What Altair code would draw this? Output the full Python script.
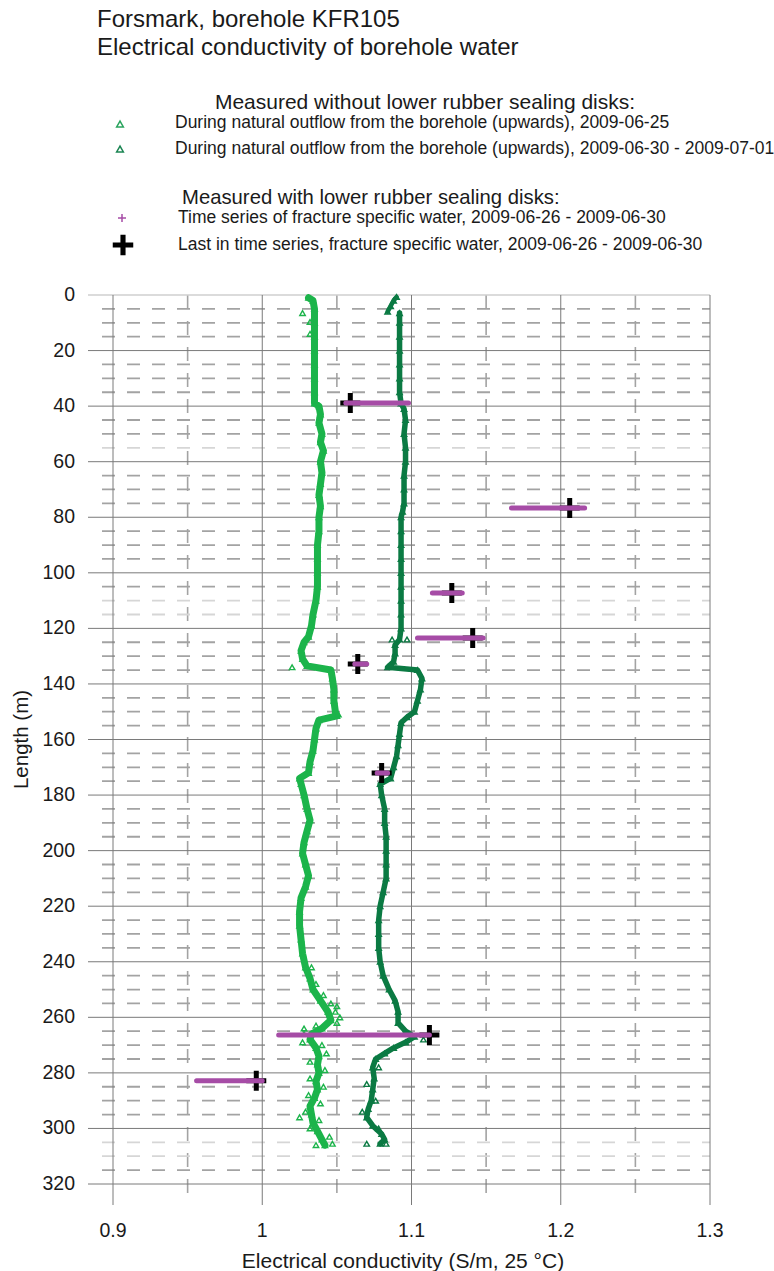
import altair as alt
import pandas as pd

FONT = "Liberation Sans"
TXT = "#1a1a1a"
GRID = "#7a7a7a"
DASH = "#a3a3a3"
LIGHT_DASH = "#d6d6d6"
TOP_LINE = "#cfcfcf"
LIGHT_GREEN = "#1cb44b"
DARK_GREEN = "#0b7a43"
PURPLE = "#a64ca6"

W, H = 597, 889

# ---------------- data ----------------
# Series A: natural outflow, 2009-06-25 (light green)
A_DEPTH = [1, 2, 5, 10, 15, 20, 25, 30, 35, 39, 40, 43, 46, 50, 53, 56, 60, 64, 68, 72,
           76, 80, 85, 90, 95, 100, 105, 110, 115, 119, 123, 125, 128, 131, 133.5, 135, 138,
           142, 146, 150, 151.5, 153, 156, 160, 164, 168, 172, 174, 176, 180, 185, 189, 193,
           197, 201, 205, 209, 213, 217, 222, 227, 232, 237, 242, 246, 250, 254, 258, 261,
           264, 266, 268, 271, 274, 277, 280, 283, 286, 289, 292, 295, 298, 301, 304, 306]
A_EC = [1.031, 1.034, 1.035, 1.035, 1.035, 1.035, 1.035, 1.035, 1.035, 1.035, 1.038, 1.039,
        1.038, 1.040, 1.039, 1.041, 1.039, 1.040, 1.039, 1.038, 1.039, 1.038, 1.038, 1.037,
        1.037, 1.037, 1.037, 1.036, 1.034, 1.033, 1.031, 1.028, 1.026, 1.027, 1.030, 1.046,
        1.047, 1.048, 1.048, 1.049, 1.050, 1.038, 1.036, 1.035, 1.034, 1.032, 1.031, 1.025,
        1.026, 1.028, 1.030, 1.032, 1.030, 1.028, 1.027, 1.029, 1.031, 1.029, 1.026, 1.025,
        1.025, 1.026, 1.027, 1.029, 1.032, 1.034, 1.039, 1.044, 1.046, 1.040, 1.033, 1.032,
        1.036, 1.038, 1.037, 1.038, 1.036, 1.037, 1.035, 1.032, 1.033, 1.034, 1.037, 1.040,
        1.042]
A_STRAY_DEPTH = [6.5, 9.7, 14, 134, 151, 242, 248, 252, 255, 256, 258, 260, 262, 263, 264,
                 266, 269, 270, 273, 276, 279, 282, 285, 288, 291, 294, 296, 297, 300, 303,
                 305.5, 306]
A_STRAY_EC = [1.027, 1.032, 1.032, 1.020, 1.051, 1.033, 1.036, 1.041, 1.046, 1.050, 1.049,
              1.052, 1.050, 1.036, 1.028, 1.028, 1.027, 1.040, 1.043, 1.032, 1.042, 1.032,
              1.041, 1.031, 1.039, 1.029, 1.025, 1.038, 1.032, 1.045, 1.047, 1.036]

# Series B: natural outflow, 2009-06-30 - 2009-07-01 (dark green)
B_HOOK_DEPTH = [0.7, 2, 4, 6]
B_HOOK_EC = [1.090, 1.088, 1.086, 1.084]
B_DEPTH = [6.5, 10, 15, 20, 25, 30, 35, 39, 41, 45, 50, 55, 60, 65, 70, 75, 78, 80, 85, 90,
           95, 100, 105, 110, 115, 120, 124, 126, 129, 132, 134, 135, 138, 142, 146, 150, 152,
           154, 158, 162, 166, 170, 174, 176, 180, 185, 190, 195, 200, 205, 210, 215, 220,
           225, 230, 235, 240, 245, 250, 254, 258, 262, 265, 267, 269, 271, 273, 275, 278,
           282, 286, 290, 293, 296, 299, 302, 304, 305.5]
B_EC = [1.092, 1.092, 1.092, 1.092, 1.092, 1.092, 1.092, 1.093, 1.095, 1.096, 1.095, 1.096,
        1.096, 1.095, 1.095, 1.095, 1.094, 1.093, 1.093, 1.093, 1.093, 1.093, 1.093, 1.093,
        1.093, 1.093, 1.092, 1.089, 1.089, 1.088, 1.084, 1.104, 1.107, 1.106, 1.104, 1.102,
        1.097, 1.093, 1.092, 1.091, 1.090, 1.088, 1.086, 1.079, 1.080, 1.082, 1.082, 1.083,
        1.083, 1.083, 1.083, 1.081, 1.079, 1.078, 1.078, 1.078, 1.079, 1.081, 1.085, 1.089,
        1.091, 1.091, 1.096, 1.102, 1.096, 1.088, 1.082, 1.076, 1.074, 1.075, 1.074, 1.073,
        1.071, 1.070, 1.074, 1.080, 1.082, 1.079]
B_STRAY_DEPTH = [124, 124, 268, 278, 284, 290, 294, 300, 305.5, 305.5]
B_STRAY_EC = [1.097, 1.087, 1.108, 1.078, 1.070, 1.076, 1.067, 1.078, 1.070, 1.083]

# Fracture specific water (with lower rubber sealing disks)
FR_DEPTH = [38.9, 76.7, 107.3, 123.5, 132.8, 172.1, 266.4, 282.8]
FR_MIN = [1.056, 1.167, 1.114, 1.104, 1.062, 1.077, 1.011, 0.956]
FR_MAX = [1.098, 1.216, 1.134, 1.148, 1.070, 1.084, 1.112, 1.000]
FR_LAST = [1.059, 1.206, 1.127, 1.141, 1.064, 1.080, 1.112, 0.996]

# grid / tick values and labels
X_TICKS = [0.9, 1.0, 1.1, 1.2, 1.3]
X_LABELS = ["0.9", "1", "1.1", "1.2", "1.3"]
X_MINOR = [0.95, 1.05, 1.15, 1.25]
Y_TICKS = [0, 20, 40, 60, 80, 100, 120, 140, 160, 180, 200, 220, 240, 260, 280, 300, 320]
Y_LABELS = ["0", "20", "40", "60", "80", "100", "120", "140", "160", "180", "200", "220",
            "240", "260", "280", "300", "320"]
Y_MAJOR = [20, 40, 60, 80, 100, 120, 140, 160, 180, 200, 220, 240, 260, 280, 300, 320]
Y_MINOR = [5, 10, 15, 25, 30, 35, 45, 50, 65, 70, 75, 85, 90, 95, 105, 125, 130, 135,
           145, 150, 155, 165, 170, 175, 185, 190, 195, 205, 210, 215, 225, 230, 235, 245,
           250, 255, 265, 270, 275, 285, 290, 295, 315]
Y_MINOR_LIGHT = [55, 110, 115, 305, 310]

TITLE_1 = "Forsmark, borehole KFR105"
TITLE_2 = "Electrical conductivity of borehole water"
HEAD_1 = "Measured without lower rubber sealing disks:"
HEAD_2 = "Measured with lower rubber sealing disks:"
ITEM_A = "During natural outflow from the borehole (upwards), 2009-06-25"
ITEM_B = "During natural outflow from the borehole (upwards), 2009-06-30 - 2009-07-01"
ITEM_TS = "Time series of fracture specific water, 2009-06-26 - 2009-06-30"
ITEM_LAST = "Last in time series, fracture specific water, 2009-06-26 - 2009-06-30"
X_TITLE = "Electrical conductivity (S/m, 25 \u00b0C)"
Y_TITLE = "Length (m)"

CROSS = "M-1,-0.25H-0.25V-1H0.25V-0.25H1V0.25H0.25V1H-0.25V0.25H-1Z"
PLUS = "M-1,0H1M0,-1V1"

# ---------------- chart ----------------
xs = alt.Scale(domain=[0.9, 1.3], nice=False, zero=False)
ys = alt.Scale(domain=[0, 320], reverse=True, nice=False, zero=False)


def X(f):
    return alt.X(f, type="quantitative", scale=xs, axis=None)


def Y(f):
    return alt.Y(f, type="quantitative", scale=ys, axis=None)


df_xt = pd.DataFrame({"ec": X_TICKS, "lab": X_LABELS})
df_xmin = pd.DataFrame({"ec": X_MINOR})
df_yt = pd.DataFrame({"depth": Y_TICKS, "lab": Y_LABELS})
df_ymaj = pd.DataFrame({"depth": Y_MAJOR})
df_ymin = pd.DataFrame({"depth": Y_MINOR})
df_ymin_l = pd.DataFrame({"depth": Y_MINOR_LIGHT})
df_ytop = pd.DataFrame({"depth": [Y_TICKS[0]]})

xmajor = alt.Chart(df_xt).mark_rule(color=GRID, strokeWidth=1).encode(
    x=X("ec"), y=alt.value(0), y2=alt.value(H + 21))
ymajor = alt.Chart(df_ymaj).mark_rule(color=GRID, strokeWidth=1).encode(
    y=Y("depth"), x=alt.value(-25), x2=alt.value(W))
top_line = alt.Chart(df_ytop).mark_rule(color=TOP_LINE, strokeWidth=1.5).encode(
    y=Y("depth"), x=alt.value(-25), x2=alt.value(W))
xminor = alt.Chart(df_xmin).mark_rule(color=DASH, strokeWidth=1.6, strokeDash=[14, 12]).encode(
    x=X("ec"), y=alt.value(0), y2=alt.value(H + 13))
yminor = alt.Chart(df_ymin).mark_rule(color=DASH, strokeWidth=1.8, strokeDash=[13, 12]).encode(
    y=Y("depth"), x=alt.value(-11), x2=alt.value(W))
yminor_l = alt.Chart(df_ymin_l).mark_rule(color=LIGHT_DASH, strokeWidth=1.8,
                                          strokeDash=[13, 12]).encode(
    y=Y("depth"), x=alt.value(-11), x2=alt.value(W))

xlabels = alt.Chart(df_xt).mark_text(font=FONT, fontSize=19.5, color=TXT, align="center",
                                     baseline="alphabetic").encode(
    x=X("ec"), y=alt.value(H + 53), text="lab:N")
ylabels = alt.Chart(df_yt).mark_text(font=FONT, fontSize=19.5, color=TXT, align="right",
                                     baseline="middle").encode(
    y=Y("depth"), x=alt.value(-38), text="lab:N")


def trace(depth, ec, color, width):
    df = pd.DataFrame({"depth": depth, "ec": ec})
    line = alt.Chart(df).mark_line(color=color, strokeWidth=width, strokeJoin="round",
                                   strokeCap="round").encode(
        x=X("ec"), y=Y("depth"), order="depth:Q")
    pts = alt.Chart(df).mark_point(shape="triangle-up", filled=False, color=color, size=30,
                                   strokeWidth=1.4, opacity=1).encode(x=X("ec"), y=Y("depth"))
    return [line, pts]


def strays(depth, ec, color):
    df = pd.DataFrame({"depth": depth, "ec": ec})
    return alt.Chart(df).mark_point(shape="triangle-up", filled=False, color=color, size=30,
                                    strokeWidth=1.4, opacity=1).encode(x=X("ec"), y=Y("depth"))


df_fr = pd.DataFrame({"depth": FR_DEPTH, "lo": FR_MIN, "hi": FR_MAX, "last": FR_LAST})
last_pts = alt.Chart(df_fr).mark_point(shape=CROSS, filled=True, color="black", size=400,
                                       opacity=1).encode(x=X("last"), y=Y("depth"))
ts_rules = alt.Chart(df_fr).mark_rule(color=PURPLE, strokeWidth=5, strokeCap="round").encode(
    x=X("lo"), x2="hi:Q", y=Y("depth"))


def text(t, x, y, size, align="left", angle=None):
    kw = dict(align=align, baseline="alphabetic", font=FONT, fontSize=size, color=TXT)
    if angle is not None:
        kw["angle"] = angle
        kw["baseline"] = "middle"
    return alt.Chart(pd.DataFrame({"t": [t]})).mark_text(**kw).encode(
        text="t:N", x=alt.value(x), y=alt.value(y))


def symbol(shape, x, y, size, color, filled, sw):
    return alt.Chart(pd.DataFrame({"s": [0]})).mark_point(
        shape=shape, size=size, filled=filled, color=color, strokeWidth=sw, opacity=1).encode(
        x=alt.value(x), y=alt.value(y))


layers = [xminor, yminor, yminor_l, top_line, xmajor, ymajor, xlabels, ylabels]
layers += trace(A_DEPTH, A_EC, LIGHT_GREEN, 7)
layers += [strays(A_STRAY_DEPTH, A_STRAY_EC, LIGHT_GREEN)]
layers += trace(B_HOOK_DEPTH, B_HOOK_EC, DARK_GREEN, 4.5)
layers += trace(B_DEPTH, B_EC, DARK_GREEN, 5.5)
layers += [strays(B_STRAY_DEPTH, B_STRAY_EC, DARK_GREEN)]
layers += [last_pts, ts_rules]
layers += [
    text(TITLE_1, -16, -268, 24),
    text(TITLE_2, -16, -240, 24),
    text(HEAD_1, 312, -186, 21, align="center"),
    text(ITEM_A, 62, -167, 17.5),
    text(ITEM_B, 62, -141, 17.5),
    text(HEAD_2, 69, -91, 20.3),
    text(ITEM_TS, 65, -72, 17.5),
    text(ITEM_LAST, 65, -45, 17.5),
    text(X_TITLE, 290, H + 84, 21, align="center"),
    text(Y_TITLE, -91, H / 2, 20.5, align="center", angle=270),
    symbol("triangle-up", 7, -171, 45, "#2aa45e", False, 1.5),
    symbol("triangle-up", 7, -146, 45, "#1b8553", False, 1.5),
    symbol(PLUS, 9, -77, 64, PURPLE, False, 1.5),
    symbol(CROSS, 10, -50, 420, "black", True, 0),
]

chart = alt.layer(*layers).properties(
    width=W, height=H,
    autosize=alt.AutoSizeParams(type="none"),
    padding={"left": 113, "top": 295, "right": 64, "bottom": 87},
    background="white",
).configure_view(stroke=None)

chart.save("out.html", embed_options={"renderer": "svg", "actions": False})
